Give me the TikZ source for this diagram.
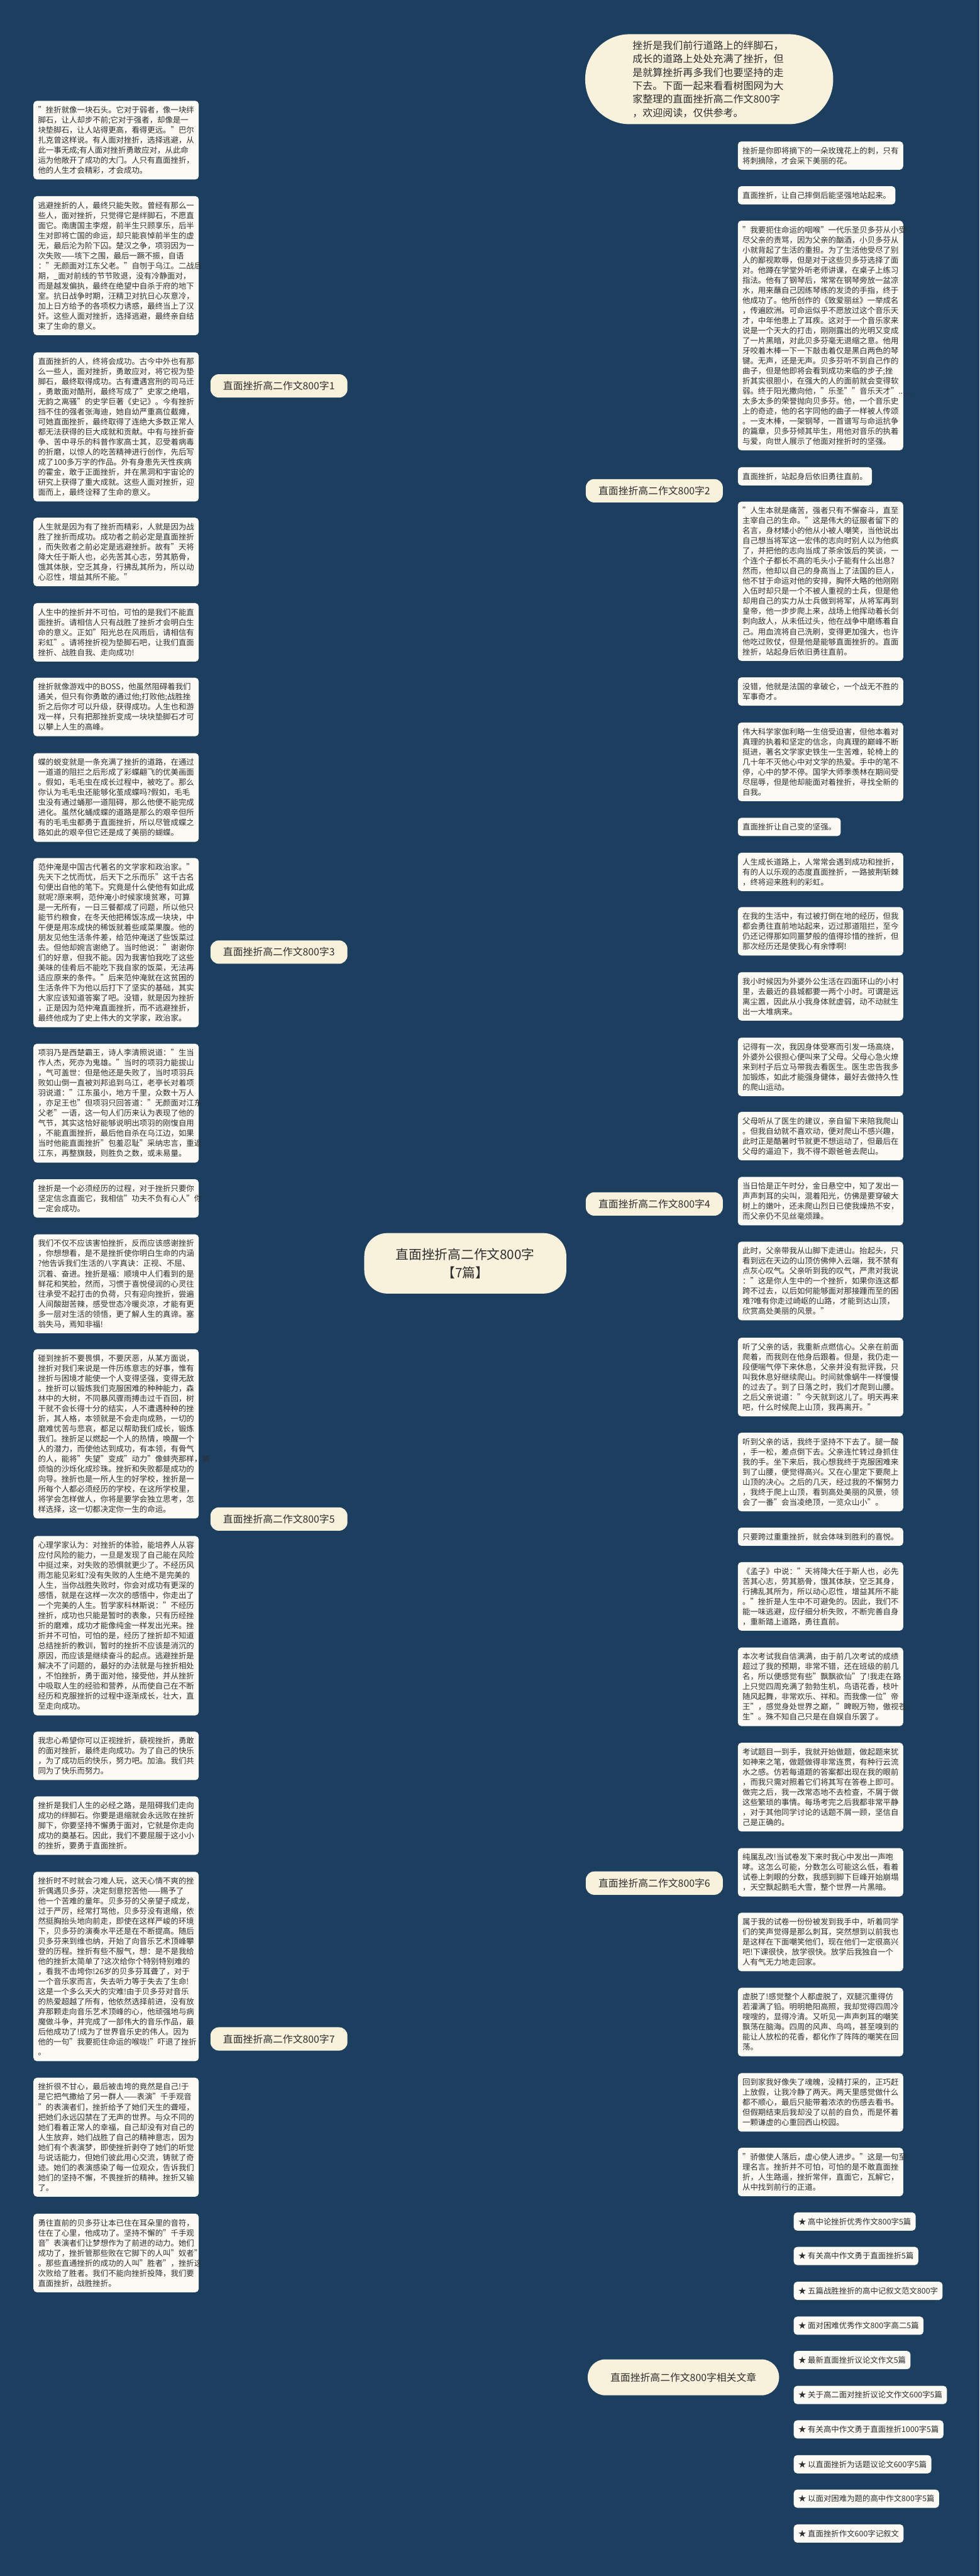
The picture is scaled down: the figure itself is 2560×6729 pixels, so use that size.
\documentclass[tikz,border=0pt]{standalone}
\usepackage{fontspec}
\setmainfont{Noto Sans CJK SC}
\usetikzlibrary{backgrounds}
\definecolor{bg}{HTML}{1C3E5F}
\definecolor{boxc}{HTML}{FBFAF4}
\definecolor{cream}{HTML}{F8F1DC}
\definecolor{linec}{HTML}{F2EEDF}
\definecolor{txt}{HTML}{2E2E2E}
\newcommand\bodyfont{\fontsize{10.2pt}{13.15pt}\selectfont}
\newcommand\kid[3]{\draw[kidline] (#1) -- (#3 |- #1) .. controls (#3 |- #2) and (#3 |- #2) .. (#2);}
\newcommand\hub[2]{\draw[hubline] (c.center) .. controls (c.center |- #2) .. (#2);}
\tikzset{
 base/.style={fill=boxc, text=txt, rounded corners=4.5pt, inner xsep=6pt, inner ysep=6pt, anchor=north west, font=\bodyfont,
   execute at begin node={\rule{0pt}{9.8pt}}, execute at end node={\rule[-2pt]{0pt}{2pt}}},
 tb/.style={base, text width=204pt, align=left},
 sb/.style={base},
 li/.style={base, anchor=west},
 lv/.style={fill=cream, text=txt, rounded corners=11pt, font=\fontsize{13pt}{15pt}\selectfont, minimum height=30.5pt, minimum width=179pt, inner sep=0pt},
 kidline/.style={draw=linec, line width=1.2pt},
 hubline/.style={draw=linec, line width=1.8pt}
}
\begin{document}
\begin{tikzpicture}[x=0.5pt,y=-0.5pt]
\fill[bg] (0,0) rectangle (2560,6729);
\useasboundingbox (0,0) rectangle (2560,6729);
\coordinate (tL) at (537,0);
\coordinate (tR) at (1910,0);
\coordinate (tRel) at (2056,0);

% central
\node[fill=cream, text=txt, rounded corners=30pt, minimum width=264pt, minimum height=79pt, align=center, font=\fontsize{17pt}{24pt}\selectfont] (c) at (1216,3300) {直面挫折高二作文800字\\【7篇】};

% intro
\node[fill=cream, text=txt, rounded corners=58pt, minimum width=324pt, minimum height=117.5pt, anchor=north west, text width=200pt, align=left, font=\fontsize{13.15pt}{17.5pt}\selectfont] (intro) at (1529,89) {挫折是我们前行道路上的绊脚石，\\成长的道路上处处充满了挫折，但\\是就算挫折再多我们也要坚持的走\\下去。下面一起来看看树图网为大\\家整理的直面挫折高二作文800字\\，欢迎阅读，仅供参考。};

% level 1
\node[lv] (k1) at (729,1008) {直面挫折高二作文800字1};
\node[lv] (k3) at (729,2487) {直面挫折高二作文800字3};
\node[lv] (k5) at (729,3968) {直面挫折高二作文800字5};
\node[lv] (k7) at (729,5326) {直面挫折高二作文800字7};
\node[lv] (k2) at (1710,1282) {直面挫折高二作文800字2};
\node[lv] (k4) at (1710,3145) {直面挫折高二作文800字4};
\node[lv] (k6) at (1710,4919) {直面挫折高二作文800字6};
\node[lv, minimum width=250pt, minimum height=47pt, rounded corners=23pt] (rel) at (1786,6210) {直面挫折高二作文800字相关文章};

% left boxes
\node[tb] (a1) at (87,263) {"挫折就像一块石头。它对于弱者，像一块绊\\脚石，让人却步不前;它对于强者，却像是一\\块垫脚石，让人站得更高，看得更远。"巴尔\\扎克曾这样说。有人面对挫折，选择逃避，从\\此一事无成;有人面对挫折勇敢应对，从此命\\运为他敞开了成功的大门。人只有直面挫折，\\他的人生才会精彩，才会成功。};
\node[tb] (a2) at (87,512) {逃避挫折的人，最终只能失败。曾经有那么一\\些人，面对挫折，只觉得它是绊脚石，不愿直\\面它。南唐国主李煜，前半生只顾享乐，后半\\生对即将亡国的命运，却只能哀悼前半生的虚\\无，最后沦为阶下囚。楚汉之争，项羽因为一\\次失败——垓下之围，最后一蹶不振，自语\\："无颜面对江东父老。"自刎于乌江。二战后\\期，\_面对前线的节节败退，没有冷静面对，\\而是越发偏执，最终在绝望中自杀于府的地下\\室。抗日战争时期，汪精卫对抗日心灰意冷，\\加上日方给予的各项权力诱惑，最终当上了汉\\奸。这些人面对挫折，选择逃避，最终亲自结\\束了生命的意义。};
\node[tb] (a3) at (87,920) {直面挫折的人，终将会成功。古今中外也有那\\么一些人，面对挫折，勇敢应对，将它视为垫\\脚石，最终取得成功。古有遭遇宫刑的司马迁\\，勇敢面对酷刑，最终写成了"史家之绝唱，\\无韵之离骚"的史学巨著《史记》。今有挫折\\挡不住的强者张海迪，她自幼严重高位截瘫，\\可她直面挫折，最终取得了连绝大多数正常人\\都无法获得的巨大成就和贡献。中有与挫折奋\\争、苦中寻乐的科普作家高士其，忍受着病毒\\的折磨，以惊人的吃苦精神进行创作，先后写\\成了100多万字的作品。外有身患先天性疾病\\的霍金，敢于正面挫折，并在黑洞和宇宙论的\\研究上获得了重大成就。这些人面对挫折，迎\\面而上，最终诠释了生命的意义。};
\node[tb] (a4) at (87,1352) {人生就是因为有了挫折而精彩，人就是因为战\\胜了挫折而成功。成功者之前必定是直面挫折\\，而失败者之前必定是逃避挫折。故有"天将\\降大任于斯人也，必先苦其心志，劳其筋骨，\\饿其体肤，空乏其身，行拂乱其所为，所以动\\心忍性，增益其所不能。"};
\node[tb] (a5) at (87,1575) {人生中的挫折并不可怕，可怕的是我们不能直\\面挫折。请相信人只有战胜了挫折才会明白生\\命的意义。正如"阳光总在风雨后，请相信有\\彩虹"。请将挫折视为垫脚石吧，让我们直面\\挫折、战胜自我、走向成功!};
\node[tb] (a6) at (87,1770) {挫折就像游戏中的BOSS，他虽然阻碍着我们\\通关，但只有你勇敢的通过他;打败他;战胜挫\\折之后你才可以升级，获得成功。人生也和游\\戏一样，只有把那挫折变成一块块垫脚石才可\\以攀上人生的高峰。};
\node[tb] (a7) at (87,1967) {蝶的蜕变就是一条充满了挫折的道路，在通过\\一道道的阻拦之后形成了彩蝶翩飞的优美画面\\。假如，毛毛虫在成长过程中，被吃了。那么\\你认为毛毛虫还能够化茧成蝶吗?假如，毛毛\\虫没有通过蛹那一道阻碍，那么他便不能完成\\进化。虽然化蛹成蝶的道路是那么的艰辛但所\\有的毛毛虫都勇于直面挫折，所以尽管成蝶之\\路如此的艰辛但它还是成了美丽的蝴蝶。};
\node[tb] (a8) at (87,2241) {范仲淹是中国古代著名的文学家和政治家。"\\先天下之忧而忧，后天下之乐而乐"这千古名\\句便出自他的笔下。究竟是什么使他有如此成\\就呢?原来啊，范仲淹小时候家境贫寒，可算\\是一无所有，一日三餐都成了问题，所以他只\\能节约粮食，在冬天他把稀饭冻成一块块，中\\午便是用冻成快的稀饭就着些咸菜果腹。他的\\朋友见他生活条件差，给范仲淹送了些饭菜过\\去。但他却婉言谢绝了。当时他说："谢谢你\\们的好意，但我不能。因为我害怕我吃了这些\\美味的佳肴后不能吃下我自家的饭菜，无法再\\适应原来的条件。"后来范仲淹就在这贫困的\\生活条件下为他以后打下了坚实的基础，其实\\大家应该知道答案了吧。没错，就是因为挫折\\，正是因为范仲淹直面挫折，而不逃避挫折，\\最终他成为了史上伟大的文学家，政治家。};
\node[tb] (a9) at (87,2726) {项羽乃是西楚霸王，诗人李清照说道："生当\\作人杰，死亦为鬼雄。"当时的项羽力能拔山\\，气可盖世：但是他还是失败了，当时项羽兵\\败如山倒一直被刘邦追到乌江，老亭长对着项\\羽说道："江东虽小，地方千里，众数十万人\\，亦足王也"但项羽只回答道："无颜面对江东\\父老"一语，这一句人们历来认为表现了他的\\气节，其实这恰好能够说明出项羽的刚愎自用\\，不能直面挫折，最后他自杀在乌江边，如果\\当时他能直面挫折"包羞忍耻"采纳忠言，重返\\江东，再整旗鼓，则胜负之数，或未易量。};
\node[tb] (a10) at (87,3080) {挫折是一个必须经历的过程，对于挫折只要你\\坚定信念直面它，我相信"功夫不负有心人"你\\一定会成功。};
\node[tb] (a11) at (87,3224) {我们不仅不应该害怕挫折，反而应该感谢挫折\\，你想想看，是不是挫折使你明白生命的内涵\\?他告诉我们生活的八字真诀：正视、不屈、\\沉着、奋进。挫折是福：顺境中人们看到的是\\鲜花和笑脸，然而，习惯于喜悦侵润的心灵往\\往承受不起打击的负荷，只有迎向挫折，尝遍\\人间酸甜苦辣，感受世态冷暖炎凉，才能有更\\多一层对生活的领悟，更了解人生的真谛。塞\\翁失马，焉知非福!};
\node[tb] (a12) at (87,3524) {碰到挫折不要畏惧，不要厌恶，从某方面说，\\挫折对我们来说是一件历练意志的好事，惟有\\挫折与困境才能使一个人变得坚强，变得无敌\\。挫折可以锻炼我们克服困难的种种能力，森\\林中的大树，不同暴风骤雨搏击过千百回，树\\干就不会长得十分的结实，人不遭遇种种的挫\\折，其人格，本领就是不会走向成熟，一切的\\磨难忧苦与悲哀，都足以帮助我们成长，锻炼\\我们。挫折足以燃起一个人的热情，唤醒一个\\人的潜力，而使他达到成功，有本领，有骨气\\的人，能将"失望"变成"动力"像蚌壳那样，将\\烦恼的沙烁化成珍珠。挫折和失败都是成功的\\向导。挫折也是一所人生的好学校，挫折是一\\所每个人都必须经历的学校，在这所学校里，\\将学会怎样做人，你将是要学会独立思考，怎\\样选择，这一切都决定你一生的命运。};
\node[tb] (a13) at (87,4012) {心理学家认为：对挫折的体验，能培养人从容\\应付风险的能力，一旦是发现了自己能在风险\\中挺过来，对失败的恐惧就更少了。不经历风\\雨怎能见彩虹?没有失败的人生绝不是完美的\\人生，当你战胜失败时，你会对成功有更深的\\感悟，就是在这样一次次的感悟中，你走出了\\一个完美的人生。哲学家科林斯说："不经历\\挫折，成功也只能是暂时的表象，只有历经挫\\折的磨难，成功才能像纯金一样发出光来。挫\\折并不可怕，可怕的是，经历了挫折却不知道\\总结挫折的教训，暂时的挫折不应该是消沉的\\原因，而应该是继续奋斗的起点。逃避挫折是\\解决不了问题的，最好的办法就是与挫折相处\\，不怕挫折，勇于面对他，接受他，并从挫折\\中吸取人生的经验和营养，从而使自己在不断\\经历和克服挫折的过程中逐渐成长，壮大，直\\至走向成功。};
\node[tb] (a14) at (87,4523) {我忠心希望你可以正视挫折，藐视挫折，勇敢\\的面对挫折，最终走向成功。为了自己的快乐\\，为了成功后的快乐，努力吧。加油。我们共\\同为了快乐而努力。};
\node[tb] (a15) at (87,4692) {挫折是我们人生的必经之路，是阻碍我们走向\\成功的绊脚石。你要是退缩就会永远败在挫折\\脚下，你要坚持不懈勇于面对，它就是你走向\\成功的奠基石。因此，我们不要屈服于这小小\\的挫折，要勇于直面挫折。};
\node[tb] (a16) at (87,4889) {挫折时不时就会刁难人玩，这天心情不爽的挫\\折偶遇贝多芬，决定刻意挖苦他——赐予了\\他一个苦难的童年。贝多芬的父亲望子成龙，\\过于严厉，经常打骂他，贝多芬没有退缩，依\\然挺胸抬头地向前走，即使在这样严峻的环境\\下，贝多芬的演奏水平还是在不断提高。随后\\贝多芬来到维也纳，开始了向音乐艺术顶峰攀\\登的历程。挫折有些不服气，想：是不是我给\\他的挫折太简单了?这次给你个特别特别难的\\，看我不击垮你!26岁的贝多芬耳聋了，对于\\一个音乐家而言，失去听力等于失去了生命!\\这是一个多么天大的灾难!由于贝多芬对音乐\\的热爱超越了所有，他依然选择前进，没有放\\弃那颗走向音乐艺术顶峰的心，他顽强地与病\\魔做斗争，并完成了一部伟大的音乐作品，最\\后他成功了!成为了世界音乐史的伟人。因为\\他的一句"我要扼住命运的喉咙!"吓退了挫折\\。};
\node[tb] (a17) at (87,5427) {挫折很不甘心，最后被击垮的竟然是自己!于\\是它把气撒给了另一群人——表演"千手观音\\"的表演者们，挫折给予了她们天生的聋哑，\\把她们永远囚禁在了无声的世界。与众不同的\\她们看着正常人的幸福，自己却没有对自己的\\人生放弃，她们战胜了自己的精神意志，因为\\她们有个表演梦，即使挫折剥夺了她们的听觉\\与说话能力，但她们彼此用心交流，铸就了奇\\迹。她们的表演感染了每一位观众，告诉我们\\她们的坚持不懈，不畏挫折的精神。挫折又输\\了。};
\node[tb] (a18) at (87,5782) {勇往直前的贝多芬让本已住在耳朵里的音符，\\住在了心里，他成功了。坚持不懈的"千手观\\音"表演者们让梦想作为了前进的动力。她们\\成功了，挫折管那些败在它脚下的人叫"奴者"\\。那些直通挫折的成功的人叫"胜者"，挫折这\\次败给了胜者。我们不能向挫折投降，我们要\\直面挫折，战胜挫折。};

% right boxes
\node[tb] (b1) at (1928,369) {挫折是你即将摘下的一朵玫瑰花上的刺，只有\\将刺摘除，才会采下美丽的花。};
\node[sb] (b2) at (1928,486) {直面挫折，让自己摔倒后能坚强地站起来。};
\node[tb] (b3) at (1928,576) {"我要扼住命运的咽喉"一代乐圣贝多芬从小受\\尽父亲的责骂，因为父亲的酗酒，小贝多芬从\\小就背起了生活的重担。为了生活他受尽了别\\人的鄙视欺辱，但是对于这些贝多芬选择了面\\对。他蹲在学堂外听老师讲课，在桌子上练习\\指法。他有了钢琴后，常常在钢琴旁放一盆凉\\水，用来蘸自己因练琴练的发烫的手指，终于\\他成功了。他所创作的《致爱丽丝》一举成名\\，传遍欧洲。可命运似乎不愿放过这个音乐天\\才，中年他患上了耳疾。这对于一个音乐家来\\说是一个天大的打击，刚刚露出的光明又变成\\了一片黑暗，对此贝多芬毫无退缩之意。他用\\牙咬着木棒一下一下敲击着仅是黑白两色的琴\\键。无声，还是无声。贝多芬听不到自己作的\\曲子，但是他即将会看到成功来临的步子;挫\\折其实很胆小，在强大的人的面前就会变得软\\弱。终于阳光撒向他，"乐圣""音乐天才"......\\太多太多的荣誉抛向贝多芬。他，一个音乐史\\上的奇迹，他的名字同他的曲子一样被人传颂\\。一支木棒，一架钢琴，一首谱写与命运抗争\\的篇章，贝多芬倾其毕生，用他对音乐的执着\\与爱，向世人展示了他面对挫折时的坚强。};
\node[sb] (b4) at (1928,1220) {直面挫折，站起身后依旧勇往直前。};
\node[tb] (b5) at (1928,1310) {"人生本就是痛苦，强者只有不懈奋斗，直至\\主宰自己的生命。"这是伟大的征服者留下的\\名言，身材矮小的他从小被人嘲笑，当他说出\\自己想当将军这一宏伟的志向时别人以为他疯\\了，并把他的志向当成了茶余饭后的笑谈，一\\个连个子都长不高的毛头小子能有什么出息?\\然而，他却以自己的身高当上了法国的巨人，\\他不甘于命运对他的安排，胸怀大略的他刚刚\\入伍时却只是一个不被人重视的士兵，但是他\\却用自己的实力从士兵做到将军，从将军再到\\皇帝，他一步步爬上来，战场上他挥动着长剑\\刺向敌人，从未低过头，他在战争中磨练着自\\己。用血流将自己洗刷，变得更加强大，也许\\他吃过败仗，但是他是能够直面挫折的。直面\\挫折，站起身后依旧勇往直前。};
\node[tb] (b6) at (1928,1769) {没错，他就是法国的拿破仑，一个战无不胜的\\军事奇才。};
\node[tb] (b7) at (1928,1887) {伟大科学家伽利略一生倍受迫害，但他本着对\\真理的执着和坚定的信念，向真理的巅峰不断\\挺进，著名文学家史铁生一生苦难，轮椅上的\\几十年不灭他心中对文学的热爱。手中的笔不\\停，心中的梦不停。国学大师季羡林在期间受\\尽屈辱，但是他却能面对着挫折，寻找全新的\\自我。};
\node[sb] (b8) at (1928,2136) {直面挫折让自己变的坚强。};
\node[tb] (b9) at (1928,2227) {人生成长道路上，人常常会遇到成功和挫折，\\有的人以乐观的态度直面挫折，一路披荆斩棘\\，终将迎来胜利的彩虹。};
\node[tb] (b10) at (1928,2369) {在我的生活中，有过被打倒在地的经历，但我\\都会勇往直前地站起来，迈过那道阻拦，至今\\仍还记得那如同噩梦般的值得珍惜的挫折，但\\那次经历还是使我心有余悸啊!};
\node[tb] (b11) at (1928,2539) {我小时候因为外婆外公生活在四面环山的小村\\里，去最近的县城都要一两个小时。可谓是远\\离尘嚣，因此从小我身体就虚弱，动不动就生\\出一大堆病来。};
\node[tb] (b12) at (1928,2710) {记得有一次，我因身体受寒而引发一场高烧，\\外婆外公很担心便叫来了父母。父母心急火燎\\来到村子后立马带我去看医生。医生忠告我多\\加锻炼，如此才能强身健体，最好去做持久性\\的爬山运动。};
\node[tb] (b13) at (1928,2904) {父母听从了医生的建议，亲自留下来陪我爬山\\。但我自幼就不喜欢动，便对爬山不感兴趣，\\此时正是酷暑时节就更不想运动了，但最后在\\父母的逼迫下，我不得不跟爸爸去爬山。};
\node[tb] (b14) at (1928,3074) {当日恰是正午时分，金日悬空中，知了发出一\\声声刺耳的尖叫，混着阳光，仿佛是要穿破大\\树上的嫩叶，还未爬山烈日已使我燥热不安，\\而父亲仍不见丝毫烦躁。};
\node[tb] (b15) at (1928,3243) {此时，父亲带我从山脚下走进山。抬起头，只\\看到远在天边的山顶仿佛伸入云端，我不禁有\\点灰心叹气。父亲听到我的叹气，严肃对我说\\："这是你人生中的一个挫折，如果你连这都\\跨不过去，以后如何能够面对那接踵而至的困\\难?唯有你走过崎岖的山路，才能到达山顶，\\欣赏高处美丽的风景。"};
\node[tb] (b16) at (1928,3494) {听了父亲的话，我重新点燃信心。父亲在前面\\爬着，而我则在他身后跟着。但是，我仍走一\\段便喘气停下来休息，父亲并没有批评我，只\\叫我休息好继续爬山。时间就像蜗牛一样慢慢\\的过去了。到了日落之时，我们才爬到山腰。\\之后父亲说道："今天就到这儿了。明天再来\\吧，什么时候爬上山顶，我再离开。"};
\node[tb] (b17) at (1928,3742) {听到父亲的话，我终于坚持不下去了。腿一酸\\，手一松，差点倒下去。父亲连忙转过身抓住\\我的手。坐下来后，我心想我终于克服困难来\\到了山腰，便觉得高兴。又在心里定下要爬上\\山顶的决心。之后的几天，经过我的不懈努力\\，我终于爬上山顶，看到高处美丽的风景，领\\会了一番"会当凌绝顶，一览众山小"。};
\node[sb] (b18) at (1928,3990) {只要跨过重重挫折，就会体味到胜利的喜悦。};
\node[tb] (b19) at (1928,4080) {《孟子》中说："天将降大任于斯人也，必先\\苦其心志，劳其筋骨，饿其体肤，空乏其身，\\行拂乱其所为，所以动心忍性，增益其所不能\\。"挫折是人生中不可避免的。因此，我们不\\能一味逃避，应仔细分析失败，不断完善自身\\，重新踏上道路，勇往直前。};
\node[tb] (b20) at (1928,4303) {本次考试我自信满满，由于前几次考试的成绩\\超过了我的预期，非常不错，还在班级的前几\\名，所以便感觉有些"飘飘欲仙"了!我走在路\\上只觉四周充满了勃勃生机，鸟语花香，枝叶\\随风起舞，非常欢乐、祥和。而我像一位"帝\\王"，感觉身处世界之巅，"睥睨万物，傲视苍\\生"。殊不知自己只是在自娱自乐罢了。};
\node[tb] (b21) at (1928,4552) {考试题目一到手，我就开始做题，做起题来犹\\如神来之笔，做题做得非常连贯，有种行云流\\水之感。仿若每道题的答案都出现在我的眼前\\，而我只需对照着它们将其写在答卷上即可。\\做完之后，我一改常态地不去检查，不屑于做\\这些繁琐的事情。每场考完之后我都非常平静\\，对于其他同学讨论的话题不屑一顾，坚信自\\己是正确的。};
\node[tb] (b22) at (1928,4827) {纯属乱改!当试卷发下来时我心中发出一声咆\\哮。这怎么可能，分数怎么可能这么低，看着\\试卷上刺眼的分数，我感到脚下巨峰开始崩塌\\，天空飘起鹅毛大雪，整个世界一片黑暗。};
\node[tb] (b23) at (1928,4996) {属于我的试卷一份份被发到我手中，听着同学\\们的笑声觉得是那么刺耳，突然想到以前我也\\是这样在下面嘲笑他们，现在他们一定很高兴\\吧!下课很快，放学很快。放学后我独自一个\\人有气无力地走回家。};
\node[tb] (b24) at (1928,5192) {虚脱了!感觉整个人都虚脱了，双腿沉重得仿\\若灌满了铅。明明艳阳高照，我却觉得四周冷\\嗖嗖的，显得冷清。又听见一声声刺耳的嘲笑\\飘荡在脑海。四周的风声、鸟鸣，甚至嗅到的\\能让人放松的花香，都化作了阵阵的嘲笑在回\\荡。};
\node[tb] (b25) at (1928,5415) {回到家我好像失了魂魄，没精打采的，正巧赶\\上放假，让我冷静了两天。两天里感觉做什么\\都不顺心，最后只能带着浓浓的伤感去看书。\\但假期结束后我却没了以前的自负，而是怀着\\一颗谦虚的心重回西山校园。};
\node[tb] (b26) at (1928,5610) {"骄傲使人落后，虚心使人进步。"这是一句至\\理名言。挫折并不可怕，可怕的是不敢直面挫\\折，人生路遥，挫折常伴，直面它，瓦解它，\\从中找到前行的正道。};

% related list
\node[li] (l1) at (2074,5803) {★ 高中论挫折优秀作文800字5篇};
\node[li] (l2) at (2074,5893) {★ 有关高中作文勇于直面挫折5篇};
\node[li] (l3) at (2074,5984) {★ 五篇战胜挫折的高中记叙文范文800字};
\node[li] (l4) at (2074,6075) {★ 面对困难优秀作文800字高二5篇};
\node[li] (l5) at (2074,6165) {★ 最新直面挫折议论文作文5篇};
\node[li] (l6) at (2074,6256) {★ 关于高二面对挫折议论文作文600字5篇};
\node[li] (l7) at (2074,6346) {★ 有关高中作文勇于直面挫折1000字5篇};
\node[li] (l8) at (2074,6437) {★ 以直面挫折为话题议论文600字5篇};
\node[li] (l9) at (2074,6527) {★ 以面对困难为题的高中作文800字5篇};
\node[li] (l10) at (2074,6618) {★ 直面挫折作文600字记叙文};

\begin{scope}[on background layer]
\hub{c}{k1.east}
\hub{c}{k3.east}
\hub{c}{k5.east}
\hub{c}{k7.east}
\hub{c}{intro.west}
\hub{c}{k2.west}
\hub{c}{k4.west}
\hub{c}{k6.west}
\hub{c}{rel.west}
\foreach \i in {1,...,5} {\kid{k1.west}{a\i.east}{tL}}
\foreach \i in {6,...,10} {\kid{k3.west}{a\i.east}{tL}}
\foreach \i in {11,...,14} {\kid{k5.west}{a\i.east}{tL}}
\foreach \i in {15,...,18} {\kid{k7.west}{a\i.east}{tL}}
\foreach \i in {1,...,8} {\kid{k2.east}{b\i.west}{tR}}
\foreach \i in {9,...,18} {\kid{k4.east}{b\i.west}{tR}}
\foreach \i in {19,...,26} {\kid{k6.east}{b\i.west}{tR}}
\foreach \i in {1,...,10} {\kid{rel.east}{l\i.west}{tRel}}
\end{scope}
\end{tikzpicture}
\end{document}
